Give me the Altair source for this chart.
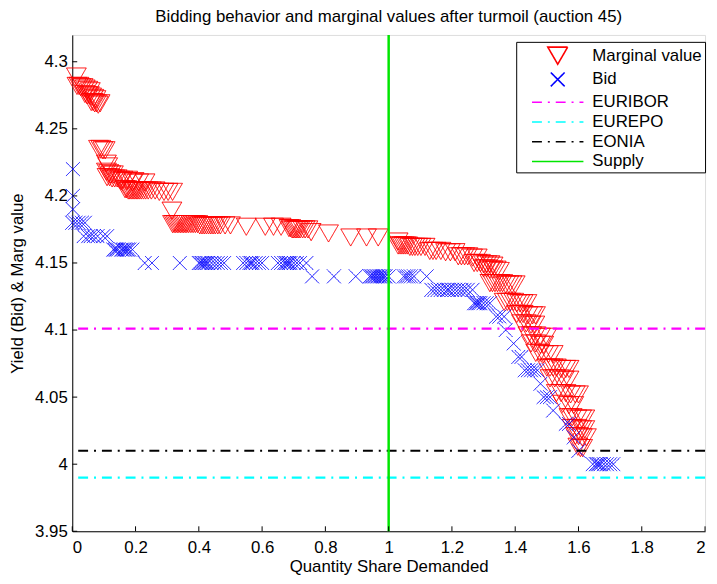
import altair as alt
import pandas as pd

# ---------------- data ----------------
series_names = ["Marginal value", "Bid", "EURIBOR", "EUREPO", "EONIA", "Supply"]

marg_x = [0.013,
          0.015, 0.021, 0.027, 0.034, 0.041, 0.049, 0.057,
          0.040, 0.047, 0.054, 0.061, 0.068, 0.075,
          0.060, 0.066, 0.071, 0.077, 0.082, 0.088,
          0.083, 0.090, 0.097, 0.104,
          0.108, 0.112,
          0.108, 0.115, 0.122, 0.130,
          0.110, 0.118, 0.126, 0.134, 0.142, 0.150, 0.160, 0.175, 0.195,
          0.155, 0.172, 0.190, 0.210, 0.230,
          0.167, 0.172, 0.177, 0.182, 0.187, 0.192, 0.197, 0.202, 0.207, 0.212,
          0.218, 0.225, 0.232, 0.240, 0.250, 0.262, 0.275, 0.290, 0.303, 0.317,
          0.315,
          0.317, 0.322, 0.327, 0.332, 0.337, 0.342, 0.347, 0.352, 0.357, 0.362,
          0.368, 0.375, 0.382, 0.389, 0.396, 0.403, 0.410, 0.417, 0.424, 0.431,
          0.438, 0.445, 0.452, 0.460, 0.468,
          0.483, 0.500, 0.550, 0.610, 0.636, 0.660,
          0.685, 0.690, 0.695, 0.700, 0.705, 0.710, 0.715, 0.720, 0.728, 0.736, 0.745,
          0.755, 0.810,
          0.880, 0.930, 0.967,
          1.030,
          1.030, 1.036, 1.042, 1.048, 1.054, 1.060, 1.067, 1.075, 1.083, 1.092, 1.102, 1.115,
          1.130, 1.140, 1.150, 1.165, 1.180, 1.195, 1.210,
          1.220, 1.230, 1.240, 1.250, 1.265, 1.280,
          1.270, 1.280, 1.290, 1.300, 1.310, 1.320, 1.330,
          1.300, 1.310, 1.320, 1.330, 1.340, 1.350,
          1.320, 1.328, 1.336, 1.344, 1.352, 1.360, 1.370, 1.380, 1.390, 1.400,
          1.365, 1.375, 1.385, 1.395, 1.405, 1.415, 1.425, 1.437,
          1.405, 1.415, 1.425, 1.440, 1.455, 1.464,
          1.420, 1.435, 1.450, 1.462,
          1.440, 1.452, 1.465, 1.480, 1.500,
          1.450, 1.465, 1.480, 1.490,
          1.465, 1.478, 1.490, 1.505, 1.520,
          1.500, 1.510, 1.520, 1.530, 1.545, 1.560, 1.570,
          1.510, 1.525, 1.540, 1.555, 1.570,
          1.530, 1.545, 1.560, 1.575, 1.590, 1.600,
          1.550, 1.570, 1.585,
          1.570, 1.580, 1.595, 1.610, 1.620,
          1.580, 1.595, 1.610, 1.620,
          1.590, 1.600, 1.612, 1.625,
          1.598, 1.606, 1.613]

marg_y = [4.289,
          4.282, 4.282, 4.281, 4.281, 4.280, 4.279, 4.278,
          4.276, 4.275, 4.275, 4.274, 4.273, 4.272,
          4.270, 4.270, 4.269, 4.269, 4.268, 4.269,
          4.235, 4.235, 4.234, 4.234,
          4.224, 4.222,
          4.218, 4.217, 4.216, 4.216,
          4.214, 4.214, 4.213, 4.213, 4.213, 4.212, 4.212, 4.212, 4.211,
          4.211, 4.211, 4.210, 4.210, 4.210,
          4.205, 4.205, 4.204, 4.204, 4.204, 4.204, 4.204, 4.204, 4.204, 4.204,
          4.204, 4.204, 4.204, 4.204, 4.204, 4.204, 4.203, 4.203, 4.203, 4.203,
          4.189,
          4.179, 4.179, 4.179, 4.179, 4.179, 4.179, 4.179, 4.179, 4.179, 4.179,
          4.179, 4.179, 4.179, 4.179, 4.179, 4.178, 4.178, 4.178, 4.178, 4.178,
          4.178, 4.178, 4.178, 4.178, 4.178,
          4.178, 4.178, 4.177, 4.177, 4.177, 4.177,
          4.176, 4.176, 4.175, 4.175, 4.175, 4.175, 4.175, 4.175, 4.175, 4.175, 4.175,
          4.173, 4.172,
          4.169, 4.169, 4.169,
          4.166,
          4.163, 4.163, 4.163, 4.163, 4.163, 4.163, 4.162, 4.162, 4.162, 4.162, 4.162, 4.162,
          4.159, 4.159, 4.159, 4.159, 4.158, 4.158, 4.158,
          4.155, 4.155, 4.155, 4.155, 4.154, 4.154,
          4.150, 4.150, 4.150, 4.149, 4.149, 4.149, 4.148,
          4.146, 4.146, 4.145, 4.145, 4.145, 4.144,
          4.135, 4.135, 4.135, 4.135, 4.135, 4.135, 4.134, 4.134, 4.134, 4.134,
          4.121, 4.121, 4.121, 4.121, 4.120, 4.120, 4.120, 4.120,
          4.112, 4.112, 4.112, 4.111, 4.111, 4.111,
          4.105, 4.105, 4.104, 4.104,
          4.096, 4.096, 4.096, 4.095, 4.095,
          4.090, 4.090, 4.089, 4.089,
          4.083, 4.083, 4.082, 4.082, 4.082,
          4.072, 4.072, 4.072, 4.072, 4.071, 4.071, 4.071,
          4.064, 4.064, 4.064, 4.063, 4.063,
          4.053, 4.053, 4.053, 4.052, 4.052, 4.052,
          4.045, 4.044, 4.044,
          4.035, 4.035, 4.034, 4.034, 4.034,
          4.027, 4.027, 4.026, 4.026,
          4.021, 4.021, 4.020, 4.020,
          4.013, 4.012, 4.012]

bid_x = [0.002, 0.002, 0.002,
         0.000, 0.010, 0.020, 0.030, 0.040,
         0.036, 0.050, 0.058, 0.068, 0.080, 0.098, 0.110,
         0.130, 0.135, 0.140, 0.145, 0.155, 0.160, 0.165, 0.170, 0.175, 0.180, 0.190,
         0.229, 0.252, 0.340,
         0.400, 0.405, 0.410, 0.415, 0.420, 0.425, 0.430, 0.440, 0.450, 0.460, 0.470, 0.480,
         0.540, 0.550, 0.560, 0.565, 0.570, 0.580, 0.590, 0.600,
         0.650, 0.660, 0.670, 0.675, 0.680, 0.685, 0.690, 0.700, 0.710, 0.720, 0.740,
         0.758, 0.827, 0.896,
         0.940, 0.945, 0.950, 0.955, 0.960, 0.965, 0.970, 0.975, 0.980, 0.985, 0.990, 1.000,
         1.048, 1.055, 1.062, 1.070, 1.080, 1.120,
         1.135, 1.145, 1.155, 1.165, 1.175, 1.185, 1.190, 1.200, 1.210, 1.220, 1.230,
         1.240, 1.250, 1.265,
         1.270, 1.275, 1.280, 1.285, 1.290, 1.300, 1.310, 1.320,
         1.340, 1.350, 1.365,
         1.370, 1.395,
         1.410, 1.420,
         1.430, 1.440, 1.450, 1.460, 1.470,
         1.480,
         1.490, 1.500, 1.510,
         1.520,
         1.560, 1.570,
         1.585,
         1.600,
         1.645, 1.655, 1.660, 1.665, 1.670, 1.680, 1.690, 1.700, 1.710]

bid_y = [4.220, 4.200, 4.190,
         4.180, 4.180, 4.180, 4.180, 4.180,
         4.170, 4.170, 4.170, 4.170, 4.170, 4.170, 4.170,
         4.160, 4.160, 4.160, 4.160, 4.160, 4.160, 4.160, 4.160, 4.160, 4.160, 4.160,
         4.150, 4.150, 4.150,
         4.150, 4.150, 4.150, 4.150, 4.150, 4.150, 4.150, 4.150, 4.150, 4.150, 4.150, 4.150,
         4.150, 4.150, 4.150, 4.150, 4.150, 4.150, 4.150, 4.150,
         4.150, 4.150, 4.150, 4.150, 4.150, 4.150, 4.150, 4.150, 4.150, 4.150, 4.150,
         4.140, 4.140, 4.140,
         4.140, 4.140, 4.140, 4.140, 4.140, 4.140, 4.140, 4.140, 4.140, 4.140, 4.140, 4.140,
         4.140, 4.140, 4.140, 4.140, 4.140, 4.140,
         4.130, 4.130, 4.130, 4.130, 4.130, 4.130, 4.130, 4.130, 4.130, 4.130, 4.130,
         4.130, 4.130, 4.130,
         4.120, 4.120, 4.120, 4.120, 4.120, 4.120, 4.120, 4.120,
         4.110, 4.110, 4.110,
         4.100, 4.090,
         4.080, 4.080,
         4.070, 4.070, 4.070, 4.070, 4.070,
         4.060,
         4.050, 4.050, 4.050,
         4.040,
         4.030, 4.030,
         4.020,
         4.010,
         4.000, 4.000, 4.000, 4.000, 4.000, 4.000, 4.000, 4.000, 4.000]

rate_names = ["EURIBOR", "EUREPO", "EONIA"]
rate_values = [4.101, 3.990, 4.010]
supply_share = [1.0]

x_ticks = [0, 0.2, 0.4, 0.6, 0.8, 1.0, 1.2, 1.4, 1.6, 1.8, 2.0]
y_ticks = [3.95, 4.0, 4.05, 4.1, 4.15, 4.2, 4.25, 4.3]

# ---------------- tables ----------------
marg_df = pd.DataFrame({"q": marg_x, "v": marg_y, "series": "Marginal value"})
bid_df = pd.DataFrame({"q": bid_x, "v": bid_y, "series": "Bid"})
rates_df = pd.DataFrame({"v": rate_values, "series": rate_names})
supply_df = pd.DataFrame({"q": supply_share, "series": ["Supply"]})
xt_df = pd.DataFrame({"t": x_ticks})
yt_df = pd.DataFrame({"t": y_ticks})

W, H = 640, 502
FONT = "Liberation Sans"

TRI = "M-1,-0.866L1,-0.866L0,0.866Z"
CROSS = "M-0.7,-0.7L0.7,0.7M-0.7,0.7L0.7,-0.7"
LINE = "M-2.6,0L2.6,0"
DASHDOT = [10, 6, 2, 6]

color_scale = alt.Scale(domain=series_names,
                        range=["#ff0000", "#0000ff", "#ff00ff", "#00ffff", "#000000", "#00e600"])
shape_scale = alt.Scale(domain=series_names, range=[TRI, CROSS, LINE, LINE, LINE, LINE])
dash_scale = alt.Scale(domain=series_names,
                       range=[[1, 0], [1, 0], DASHDOT, DASHDOT, DASHDOT, [1, 0]])

legend = alt.Legend(title=None, orient="none", legendX=449, legendY=7,
                    strokeColor="black", fillColor="white", padding=3,
                    symbolSize=400, symbolOffset=28, labelOffset=24,
                    symbolStrokeWidth=1.6,
                    labelFont=FONT, labelFontSize=17, labelColor="black",
                    rowPadding=1, cornerRadius=0)

xscale = alt.Scale(domain=[0, 2], nice=False, zero=False)
yscale = alt.Scale(domain=[3.95, 4.32], nice=False, zero=False)

xaxis = alt.Axis(values=x_ticks, labelExpr="format(datum.value, '~g')",
                 title="Quantity Share Demanded", grid=False, ticks=False, tickSize=0,
                 domainColor="black", domainWidth=1, labelFont=FONT, labelFontSize=17,
                 labelColor="black", labelPadding=8, titleFont=FONT, titleFontSize=17,
                 titleFontWeight="normal", titleColor="black", titlePadding=4)
yaxis = alt.Axis(values=y_ticks, labelExpr="format(datum.value, '~g')",
                 title="Yield (Bid) & Marg value", grid=False, ticks=False, tickSize=0,
                 domainColor="black", domainWidth=1, labelFont=FONT, labelFontSize=17,
                 labelColor="black", labelPadding=5, titleFont=FONT, titleFontSize=17,
                 titleFontWeight="normal", titleColor="black", titlePadding=8)

enc_common = dict(
    color=alt.Color("series:N", scale=color_scale, legend=legend),
    strokeDash=alt.StrokeDash("series:N", scale=dash_scale, legend=legend),
)

marg = alt.Chart(marg_df).mark_point(filled=False, size=400, opacity=1, strokeWidth=1).encode(
    x=alt.X("q:Q", scale=xscale, axis=xaxis),
    y=alt.Y("v:Q", scale=yscale, axis=yaxis),
    shape=alt.Shape("series:N", scale=shape_scale, legend=legend),
    **enc_common,
)
bid = alt.Chart(bid_df).mark_point(filled=False, size=400, opacity=1, strokeWidth=1).encode(
    x=alt.X("q:Q", scale=xscale),
    y=alt.Y("v:Q", scale=yscale),
    shape=alt.Shape("series:N", scale=shape_scale, legend=legend),
    **enc_common,
)
rates = alt.Chart(rates_df).mark_rule(strokeWidth=2.2).encode(
    y=alt.Y("v:Q", scale=yscale),
    **enc_common,
)
supply = alt.Chart(supply_df).mark_rule(strokeWidth=2.5).encode(
    x=alt.X("q:Q", scale=xscale),
    **enc_common,
)
xt = alt.Chart(xt_df).mark_rule(color="black", strokeWidth=1).encode(
    x=alt.X("t:Q", scale=xscale), y=alt.value(H), y2=alt.value(H - 5))
yt = alt.Chart(yt_df).mark_rule(color="black", strokeWidth=1).encode(
    y=alt.Y("t:Q", scale=yscale), x=alt.value(0), x2=alt.value(5))

chart = alt.layer(marg, bid, rates, supply, xt, yt).properties(
    width=W, height=H,
    title=alt.TitleParams("Bidding behavior and marginal values after turmoil (auction 45)",
                          font=FONT, fontSize=17, fontWeight="normal", color="black",
                          anchor="middle", baseline="alphabetic", offset=-5),
    autosize=alt.AutoSizeParams(type="none"),
    padding={"left": 65, "top": 24, "right": 4, "bottom": 42},
).configure_view(stroke=None).configure(background="white")

chart.save("out.html", embed_options={"renderer": "svg", "actions": False})
